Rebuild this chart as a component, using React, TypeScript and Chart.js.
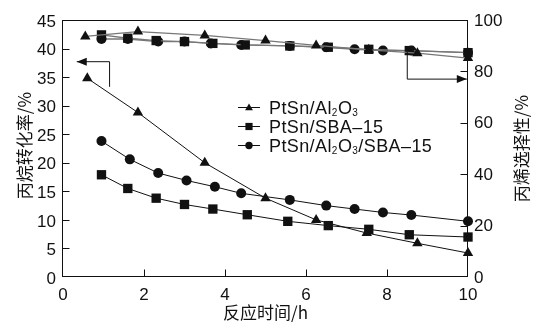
import React, { useEffect, useRef } from 'react';
import { Chart, registerables } from 'chart.js';

Chart.register(...registerables);

// ---- data ----
const xTickValues = [0, 2, 4, 6, 8, 10];
const convTickValues = [0, 5, 10, 15, 20, 25, 30, 35, 40, 45];
const selTickValues = [0, 20, 40, 60, 80, 100];

const seriesLabels = ['PtSn/Al₂O₃', 'PtSn/SBA–15', 'PtSn/Al₂O₃/SBA–15'];
const xTitle = '反应时间/h';
const leftTitle = '丙烷转化率/%';
const rightTitle = '丙烯选择性/%';

// PtSn/Al2O3
const aTimeConv = [0.6, 1.85, 3.5, 5.0, 6.25, 7.5, 8.75, 10];
const aConv = [34.8, 28.8, 20.0, 13.8, 10.0, 7.7, 5.9, 4.2];
const aTimeSel = [0.55, 1.85, 3.5, 5.0, 6.25, 7.55, 8.75, 10];
const aSel = [93.6, 95.5, 94.0, 92.0, 90.1, 88.4, 87.1, 85.2];

// PtSn/SBA-15
const bTimeConv = [0.95, 1.6, 2.3, 3.0, 3.7, 4.55, 5.55, 6.55, 7.55, 8.55, 10];
const bConv = [17.9, 15.5, 13.8, 12.7, 11.9, 10.9, 9.75, 9.0, 8.35, 7.4, 7.0];
const bTimeSel = [0.95, 1.6, 2.3, 3.0, 3.7, 4.5, 5.6, 6.55, 7.55, 8.55, 10];
const bSel = [94.2, 92.9, 92.0, 91.6, 90.9, 90.3, 89.9, 89.4, 88.6, 88.1, 87.3];

// PtSn/Al2O3/SBA-15
const cTimeConv = [0.95, 1.65, 2.35, 3.05, 3.75, 4.4, 5.6, 6.5, 7.2, 7.9, 8.6, 10];
const cConv = [23.8, 20.6, 18.2, 16.9, 15.8, 14.65, 13.5, 12.5, 11.9, 11.3, 10.85, 9.75];
const cTimeSel = [0.95, 1.6, 2.35, 3.0, 3.65, 4.4, 5.6, 6.5, 7.2, 7.9, 8.6, 10];
const cSel = [92.6, 92.6, 91.6, 91.6, 90.9, 90.3, 89.9, 89.4, 88.6, 88.1, 88.1, 87.3];

// arrow annotations (data units): [x, y]
const leftArrow = [[1.15, 33.3], [1.15, 37.7], [0.34, 37.7]];
const rightArrow = [[8.5, 87.7], [8.5, 77], [9.97, 77]];

const pts = (xs: number[], ys: number[]) => xs.map((x, i) => ({ x, y: ys[i] }));

const TEXT = '#111';
const NUM_FONT = '"Liberation Sans", Arial, sans-serif';
const CJK_FONT = '"Noto Sans CJK SC", sans-serif';

function drawMarker(ctx: CanvasRenderingContext2D, shape: string, x: number, y: number, s: number) {
  ctx.beginPath();
  if (shape === 'triangle') {
    const r = s;
    ctx.moveTo(x, y - r);
    ctx.lineTo(x + r * 0.866, y + r * 0.5);
    ctx.lineTo(x - r * 0.866, y + r * 0.5);
    ctx.closePath();
  } else if (shape === 'rect') {
    ctx.rect(x - s, y - s, 2 * s, 2 * s);
  } else {
    ctx.arc(x, y, s, 0, Math.PI * 2);
  }
  ctx.fill();
}

function drawRich(ctx: CanvasRenderingContext2D, text: string, x: number, y: number, size: number) {
  const subs = '₀₁₂₃₄₅₆₇₈₉';
  let cx = x;
  ctx.textAlign = 'left';
  ctx.textBaseline = 'alphabetic';
  for (const ch of text) {
    const si = subs.indexOf(ch);
    if (si >= 0) {
      ctx.font = `${Math.round(size * 0.55)}px ${NUM_FONT}`;
      const d = String(si);
      ctx.fillText(d, cx, y + size * 0.12);
      cx += ctx.measureText(d).width + 0.5;
    } else {
      ctx.font = `${size}px ${NUM_FONT}`;
      ctx.fillText(ch, cx, y);
      cx += ctx.measureText(ch).width + 0.4;
    }
  }
}

function drawArrow(ctx: CanvasRenderingContext2D, p: number[][]) {
  ctx.beginPath();
  ctx.moveTo(p[0][0], p[0][1]);
  for (let i = 1; i < p.length; i++) ctx.lineTo(p[i][0], p[i][1]);
  ctx.stroke();
  const [tx, ty] = p[p.length - 1];
  const [fx, fy] = p[p.length - 2];
  const ang = Math.atan2(ty - fy, tx - fx);
  const L = 10, W = 4;
  ctx.beginPath();
  ctx.moveTo(tx, ty);
  ctx.lineTo(tx - L * Math.cos(ang) + W * Math.sin(ang), ty - L * Math.sin(ang) - W * Math.cos(ang));
  ctx.lineTo(tx - L * Math.cos(ang) - W * Math.sin(ang), ty - L * Math.sin(ang) + W * Math.cos(ang));
  ctx.closePath();
  ctx.fill();
}

const decor = {
  id: 'decor',
  beforeDatasetsDraw(chart: any) {
    const { ctx, chartArea: a, scales } = chart;
    ctx.save();
    ctx.strokeStyle = '#111';
    ctx.lineWidth = 1;
    const L = Math.round(a.left) - 0.5, R = Math.round(a.right) - 0.5;
    const T = Math.round(a.top) + 0.5, B = Math.round(a.bottom) - 0.5;
    ctx.strokeRect(L, T, R - L, B - T);
    ctx.beginPath();
    xTickValues.slice(1, -1).forEach((v) => {
      const px = Math.round(scales.x.getPixelForValue(v)) + 0.5;
      ctx.moveTo(px, B); ctx.lineTo(px, B - 7);
    });
    convTickValues.slice(1, -1).forEach((v) => {
      const py = Math.round(scales.y.getPixelForValue(v)) + 0.5;
      ctx.moveTo(L, py); ctx.lineTo(L + 7, py);
    });
    selTickValues.slice(1, -1).forEach((v) => {
      const py = Math.round(scales.y1.getPixelForValue(v)) + 0.5;
      ctx.moveTo(R, py); ctx.lineTo(R - 7, py);
    });
    ctx.stroke();
    ctx.restore();
  },
  afterDatasetsDraw(chart: any) {
    const { ctx, chartArea: a, scales } = chart;
    ctx.save();
    ctx.strokeStyle = '#111';
    ctx.fillStyle = '#111';
    ctx.lineWidth = 1;
    drawArrow(ctx, leftArrow.map(([x, y]) => [scales.x.getPixelForValue(x), scales.y.getPixelForValue(y)]));
    drawArrow(ctx, rightArrow.map(([x, y]) => [scales.x.getPixelForValue(x), scales.y1.getPixelForValue(y)]));

    // legend
    const shapes = ['triangle', 'rect', 'circle'];
    const sizes = [4.5, 3.6, 3.7];
    const rowY = [107, 126, 145];
    seriesLabels.forEach((lab, i) => {
      const y = rowY[i];
      ctx.strokeStyle = '#111';
      ctx.beginPath();
      ctx.moveTo(238, y + 0.5); ctx.lineTo(260, y + 0.5);
      ctx.stroke();
      ctx.fillStyle = '#111';
      drawMarker(ctx, shapes[i], 249, y + (i === 0 ? 1 : 0.5), sizes[i]);
      ctx.fillStyle = TEXT;
      drawRich(ctx, lab, 269, y + 6.5, 18);
    });

    // titles
    ctx.fillStyle = TEXT;
    ctx.font = `17px ${CJK_FONT}`;
    ctx.textAlign = 'center';
    ctx.textBaseline = 'middle';
    ctx.fillText(xTitle, (a.left + a.right) / 2, 313);
    const cy = (a.top + a.bottom) / 2;
    ctx.save();
    ctx.translate(25, cy - 3);
    ctx.rotate(-Math.PI / 2);
    ctx.fillText(leftTitle, 0, 0);
    ctx.restore();
    ctx.save();
    ctx.translate(522, cy);
    ctx.rotate(-Math.PI / 2);
    ctx.fillText(rightTitle, 0, 0);
    ctx.restore();
    ctx.restore();
  },
};

export default function App() {
  const ref = useRef<HTMLCanvasElement>(null);
  useEffect(() => {
    if (!ref.current) return;
    const convLine = { borderColor: '#111', borderWidth: 1, pointBackgroundColor: '#111', pointBorderColor: '#111', pointBorderWidth: 0, clip: false as any, yAxisID: 'y' };
    const selLine = { borderColor: '#777', borderWidth: 1.3, pointBackgroundColor: '#111', pointBorderColor: '#111', pointBorderWidth: 0, clip: false as any, yAxisID: 'y1' };
    const tri = { pointStyle: 'triangle', pointRadius: 6 };
    const sq = { pointStyle: 'rect', pointRadius: 6.6 };
    const ci = { pointStyle: 'circle', pointRadius: 5 };
    const chart = new Chart(ref.current, {
      type: 'line',
      data: {
        datasets: [
          { label: seriesLabels[0] + ' sel', data: pts(aTimeSel, aSel), ...selLine, ...tri },
          { label: seriesLabels[1] + ' sel', data: pts(bTimeSel, bSel), ...selLine, ...sq },
          { label: seriesLabels[2] + ' sel', data: pts(cTimeSel, cSel), ...selLine, ...ci },
          { label: seriesLabels[0], data: pts(aTimeConv, aConv), ...convLine, ...tri },
          { label: seriesLabels[1], data: pts(bTimeConv, bConv), ...convLine, ...sq },
          { label: seriesLabels[2], data: pts(cTimeConv, cConv), ...convLine, ...ci },
        ] as any,
      },
      options: {
        animation: false,
        responsive: true,
        maintainAspectRatio: false,
        layout: { padding: { top: 20, left: 0, right: 0, bottom: 0 } },
        plugins: { legend: { display: false }, tooltip: { enabled: false } },
        elements: { line: { tension: 0 } },
        scales: {
          x: {
            type: 'linear', min: 0, max: 10,
            afterBuildTicks: (s: any) => { s.ticks = xTickValues.map((v) => ({ value: v })); },
            afterFit: (s: any) => { s.height = 58; },
            grid: { display: false, drawTicks: false },
            border: { display: false },
            ticks: { color: TEXT, font: { size: 17, family: NUM_FONT }, padding: 8, maxRotation: 0, autoSkip: false },
          },
          y: {
            type: 'linear', position: 'left', min: 0, max: 45,
            afterBuildTicks: (s: any) => { s.ticks = convTickValues.map((v) => ({ value: v })); },
            afterFit: (s: any) => { s.width = 63; },
            grid: { display: false, drawTicks: false },
            border: { display: false },
            ticks: { color: TEXT, font: { size: 17, family: NUM_FONT }, padding: 7, labelOffset: 2, autoSkip: false },
          },
          y1: {
            type: 'linear', position: 'right', min: 0, max: 100,
            afterBuildTicks: (s: any) => { s.ticks = selTickValues.map((v) => ({ value: v })); },
            afterFit: (s: any) => { s.width = 78; },
            grid: { display: false, drawTicks: false },
            border: { display: false },
            ticks: { color: TEXT, font: { size: 17, family: NUM_FONT }, padding: 6, labelOffset: 1, autoSkip: false },
          },
        },
      } as any,
      plugins: [decor],
    });
    return () => chart.destroy();
  }, []);
  return (
    <div style={{ position: 'absolute', left: 0, top: 0, width: 546, height: 335, background: '#fff' }}>
      <canvas ref={ref} />
    </div>
  );
}
